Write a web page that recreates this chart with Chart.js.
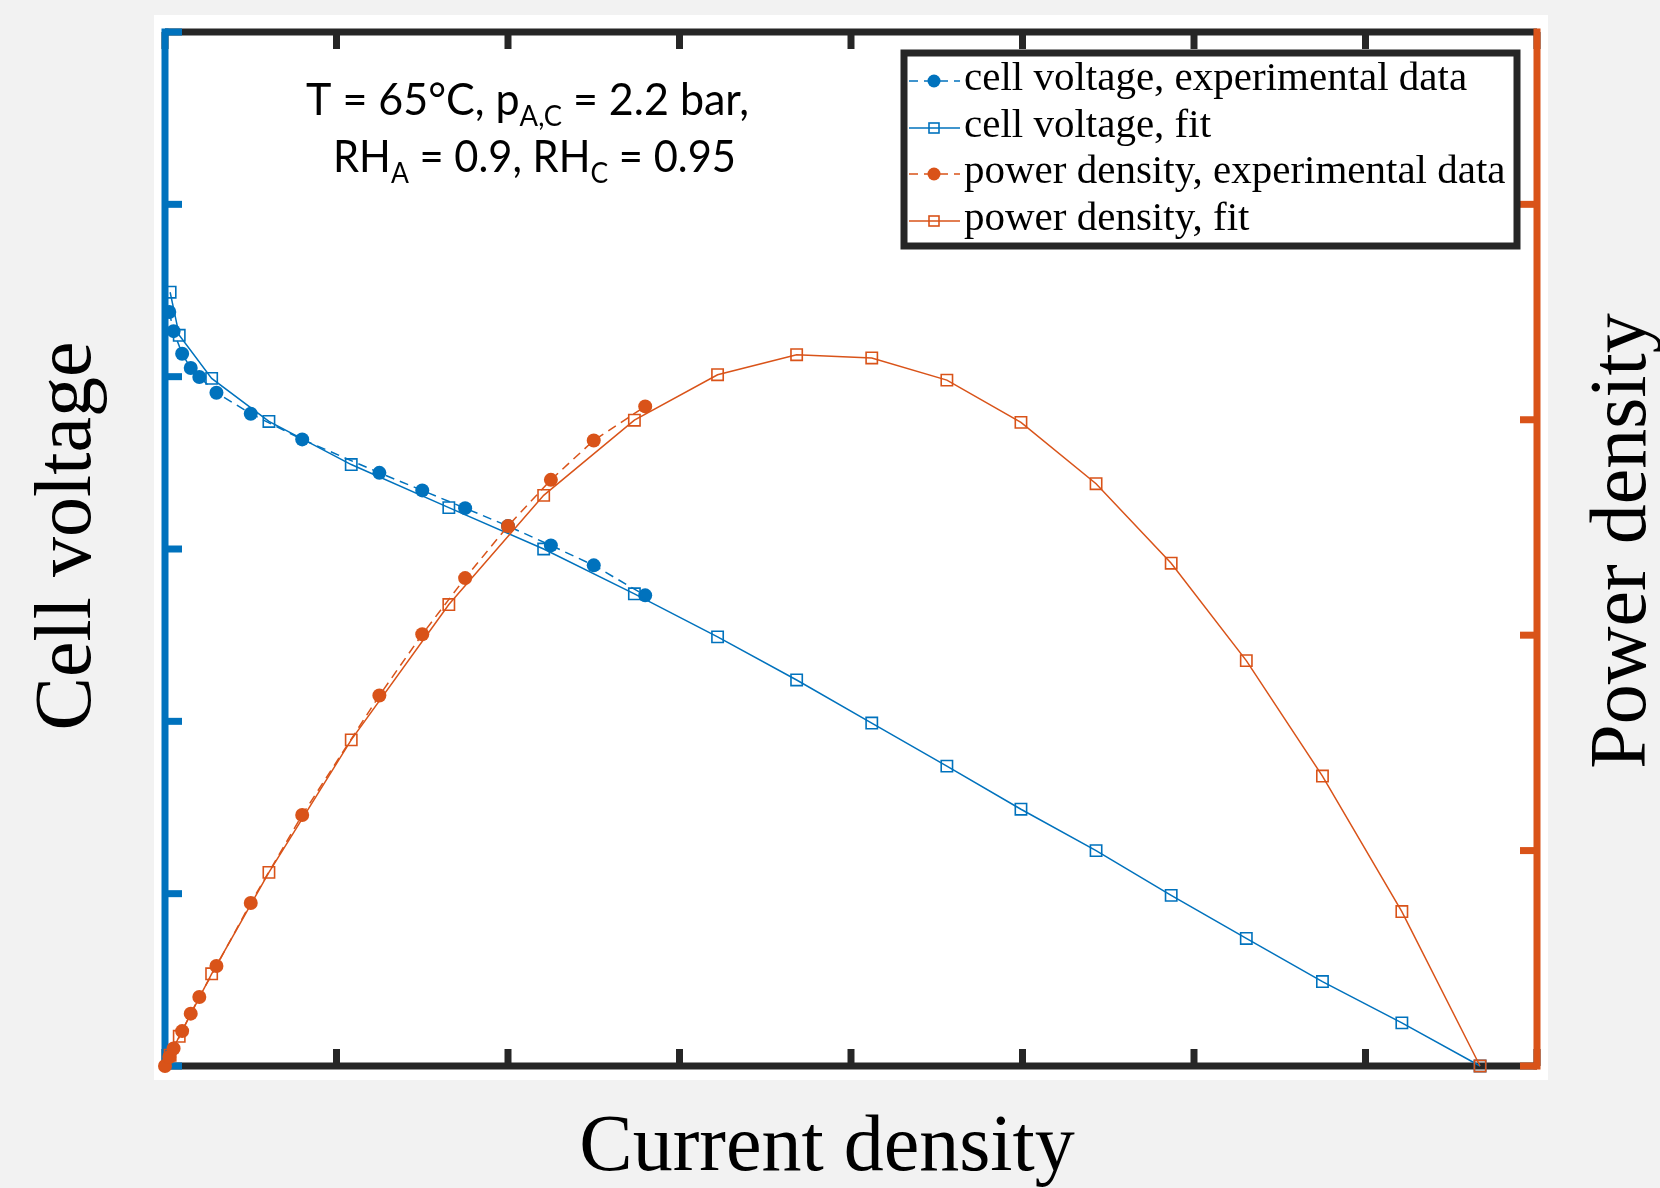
<!DOCTYPE html>
<html>
<head>
<meta charset="utf-8">
<title>Cell voltage / power density</title>
<script src="https://cdn.jsdelivr.net/npm/chart.js@4.4.1/dist/chart.umd.min.js"></script>
<style>
  html, body { margin: 0; padding: 0; background: #f2f2f2; }
  canvas { display: block; }
</style>
</head>
<body>
<canvas id="chart" width="1660" height="1188"></canvas>
<script>
// measured points (no units on the original axes)
// first voltage point sits on the left axis and is not visible -> null
const currentExp = [0, 0.025, 0.05, 0.1, 0.15, 0.2, 0.3, 0.5, 0.8, 1.25, 1.5, 1.75, 2.0, 2.25, 2.5, 2.8];
const voltageExp = [null, 4.375, 4.264, 4.133, 4.05, 3.998, 3.907, 3.785, 3.636, 3.442, 3.34, 3.237, 3.133, 3.021, 2.905, 2.731];
const powerExp = [0, 0.042, 0.081, 0.162, 0.243, 0.32, 0.464, 0.757, 1.165, 1.72, 2.004, 2.265, 2.507, 2.721, 2.904, 3.062];

// fit curve samples
const currentFit = [0.03, 0.083, 0.272, 0.606, 1.086, 1.655, 2.208, 2.737, 3.222, 3.683, 4.121, 4.559, 4.991, 5.429, 5.867, 6.305, 6.749, 7.212, 7.668];
const voltageFit = [4.49, 4.24, 3.99, 3.74, 3.49, 3.24, 3.0, 2.74, 2.49, 2.24, 1.99, 1.74, 1.49, 1.25, 0.99, 0.74, 0.49, 0.25, 0];
const powerFit = [0.05, 0.138, 0.428, 0.899, 1.514, 2.142, 2.649, 2.998, 3.209, 3.302, 3.287, 3.184, 2.988, 2.703, 2.334, 1.882, 1.346, 0.717, 0];

// tick positions (the original has ticks but no tick labels)
const xTicks = [0, 1, 2, 3, 4, 5, 6, 7, 8];
const voltTicks = [0, 1, 2, 3, 4, 5, 6];
const powerTicks = [0, 1, 2, 3, 4];

const legendLabels = [
  "cell voltage, experimental data",
  "cell voltage, fit",
  "power density, experimental data",
  "power density, fit"
];

const BLUE = "#0072BD";
const ORANGE = "#D95319";
const DARK = "#262626";

function pts(xs, ys) {
  return xs.map((x, i) => ({ x: x, y: ys[i] }));
}

function seg(ctx, x1, y1, x2, y2) {
  ctx.beginPath();
  ctx.moveTo(x1, y1);
  ctx.lineTo(x2, y2);
  ctx.stroke();
}

// background panel, axes box and inward ticks (drawn under the data like matlab)
const framePlugin = {
  id: "frame",
  beforeDraw(chart) {
    const ctx = chart.ctx;
    ctx.save();
    ctx.fillStyle = "#f2f2f2";
    ctx.fillRect(0, 0, chart.width, chart.height);
    ctx.fillStyle = "#ffffff";
    ctx.fillRect(154, 15, 1394, 1065);
    ctx.restore();
  },
  beforeDatasetsDraw(chart) {
    const { ctx, chartArea: a, scales } = chart;
    const tl = 17;
    ctx.save();
    ctx.lineCap = "butt";

    ctx.strokeStyle = DARK;
    ctx.lineWidth = 7;
    seg(ctx, a.left, a.top, a.right, a.top);
    seg(ctx, a.left, a.bottom, a.right, a.bottom);
    xTicks.forEach(v => {
      const px = scales.x.getPixelForValue(v);
      seg(ctx, px, a.bottom, px, a.bottom - tl);
      seg(ctx, px, a.top, px, a.top + tl);
    });

    ctx.strokeStyle = BLUE;
    seg(ctx, a.left, a.top - 3.5, a.left, a.bottom + 3.5);
    voltTicks.forEach(v => {
      const py = scales.y.getPixelForValue(v);
      seg(ctx, a.left, py, a.left + tl, py);
    });

    ctx.strokeStyle = ORANGE;
    seg(ctx, a.right, a.top - 3.5, a.right, a.bottom + 3.5);
    powerTicks.forEach(v => {
      const py = scales.y2.getPixelForValue(v);
      seg(ctx, a.right, py, a.right - tl, py);
    });
    ctx.restore();
  },
  afterDraw(chart) {
    const ctx = chart.ctx;
    ctx.save();

    // axis titles
    ctx.fillStyle = "#000";
    ctx.font = "80px 'Liberation Serif'";
    ctx.textAlign = "center";
    ctx.textBaseline = "alphabetic";
    ctx.fillText("Current density", 827, 1170);

    ctx.save();
    ctx.translate(90, 536);
    ctx.rotate(-Math.PI / 2);
    ctx.fillText("Cell voltage", 0, 0);
    ctx.restore();

    ctx.save();
    ctx.translate(1645, 541);
    ctx.rotate(-Math.PI / 2);
    ctx.fillText("Power density", 0, 0);
    ctx.restore();

    // operating conditions
    ctx.textAlign = "left";
    richText(ctx, [["T = 65°C, p", 0], ["A,C", 1], [" = 2.2 bar,", 0]], 306, 115, 443);
    richText(ctx, [["RH", 0], ["A", 1], [" = 0.9, RH", 0], ["C", 1], [" = 0.95", 0]], 333, 172, 403);

    // legend box
    ctx.fillStyle = "#fff";
    ctx.fillRect(904, 53, 613, 193);
    ctx.strokeStyle = DARK;
    ctx.lineWidth = 7;
    ctx.strokeRect(904, 53, 613, 193);

    const rowY = [81, 128, 174, 221];
    chart.data.datasets.forEach((ds, i) => {
      const y = rowY[i];
      ctx.strokeStyle = ds.borderColor;
      ctx.lineWidth = 1.5;
      ctx.setLineDash(ds.borderDash || []);
      seg(ctx, 909, y, 960, y);
      ctx.setLineDash([]);
      if (ds.pointStyle === "circle") {
        ctx.fillStyle = ds.borderColor;
        ctx.beginPath();
        ctx.arc(934, y, 6.5, 0, Math.PI * 2);
        ctx.fill();
      } else {
        ctx.lineWidth = 1.6;
        ctx.strokeRect(929, y - 5, 10, 10);
      }
      ctx.fillStyle = "#000";
      ctx.font = "41px 'Liberation Serif'";
      ctx.fillText(ds.label, 964, y + 9);
    });
    ctx.restore();
  }
};

// text with subscripts, squeezed to the width of the original (Calibri-like) text
function richText(ctx, parts, x, y, targetW) {
  const fonts = ["44px Lato", "28px Lato"];
  let w = 0;
  parts.forEach(p => {
    ctx.font = fonts[p[1]];
    w += ctx.measureText(p[0]).width;
  });
  ctx.save();
  ctx.translate(x, y);
  ctx.scale(targetW / w, 1);
  ctx.fillStyle = "#000";
  let cx = 0;
  parts.forEach(p => {
    ctx.font = fonts[p[1]];
    ctx.fillText(p[0], cx, p[1] ? 11 : 0);
    cx += ctx.measureText(p[0]).width;
  });
  ctx.restore();
}

const ctx = document.getElementById("chart").getContext("2d");

new Chart(ctx, {
  type: "line",
  data: {
    datasets: [
      {
        label: legendLabels[0],
        data: pts(currentExp, voltageExp),
        yAxisID: "y",
        borderColor: BLUE,
        backgroundColor: BLUE,
        borderWidth: 1.5,
        borderDash: [9, 6],
        pointStyle: "circle",
        pointRadius: 7,
        pointBackgroundColor: BLUE,
        pointBorderWidth: 0,
        clip: false,
        order: 3
      },
      {
        label: legendLabels[1],
        data: pts(currentFit, voltageFit),
        yAxisID: "y",
        borderColor: BLUE,
        backgroundColor: "rgba(0,0,0,0)",
        borderWidth: 1.5,
        pointStyle: "rect",
        pointRadius: 8,
        pointBorderColor: BLUE,
        pointBackgroundColor: "rgba(0,0,0,0)",
        pointBorderWidth: 1.6,
        clip: false,
        order: 2
      },
      {
        label: legendLabels[2],
        data: pts(currentExp, powerExp),
        yAxisID: "y2",
        borderColor: ORANGE,
        backgroundColor: ORANGE,
        borderWidth: 1.5,
        borderDash: [9, 6],
        pointStyle: "circle",
        pointRadius: 7,
        pointBackgroundColor: ORANGE,
        pointBorderWidth: 0,
        clip: false,
        order: 0
      },
      {
        label: legendLabels[3],
        data: pts(currentFit, powerFit),
        yAxisID: "y2",
        borderColor: ORANGE,
        backgroundColor: "rgba(0,0,0,0)",
        borderWidth: 1.5,
        pointStyle: "rect",
        pointRadius: 8,
        pointBorderColor: ORANGE,
        pointBackgroundColor: "rgba(0,0,0,0)",
        pointBorderWidth: 1.6,
        clip: false,
        order: 1
      }
    ]
  },
  options: {
    responsive: false,
    devicePixelRatio: 1,
    animation: false,
    layout: { padding: { left: 165, right: 123, top: 32, bottom: 122 } },
    plugins: {
      legend: { display: false },
      tooltip: { enabled: false }
    },
    elements: { line: { tension: 0 } },
    scales: {
      x: { type: "linear", min: 0, max: 8, display: false },
      y: { type: "linear", position: "left", min: 0, max: 6, display: false },
      y2: { type: "linear", position: "right", min: 0, max: 4.8, display: false }
    }
  },
  plugins: [framePlugin]
});
</script>
</body>
</html>
